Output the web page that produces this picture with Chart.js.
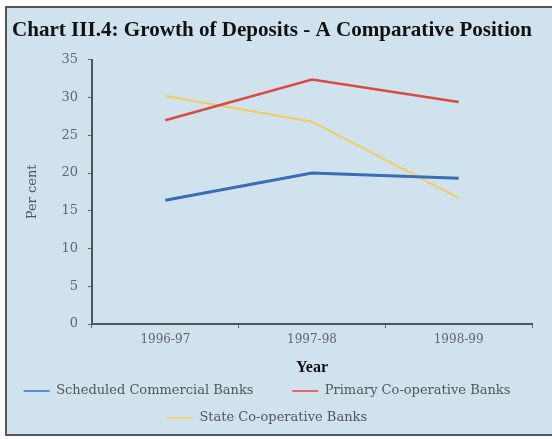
<!DOCTYPE html>
<html>
<head>
<meta charset="utf-8">
<script src="https://cdn.jsdelivr.net/npm/chart.js@4/dist/chart.umd.min.js"></script>
<style>
  html, body { margin: 0; padding: 0; background: #ffffff; }
  #wrap { width: 552px; height: 439px; position: relative; }
</style>
</head>
<body>
<div id="wrap"><canvas id="chart" width="552" height="439"></canvas></div>
<script>
// Growth of deposits, per cent
const years = ['1996-97', '1997-98', '1998-99'];
const scheduledCommercial = [16.4, 20.0, 19.3];
const primaryCooperative = [27.0, 32.4, 29.4];
const stateCooperative = [30.2, 26.8, 16.7];
const seriesNames = ['Scheduled Commercial Banks', 'Primary Co-operative Banks', 'State Co-operative Banks'];
const yTicks = [0, 5, 10, 15, 20, 25, 30, 35];

const SERIF = "'DejaVu Serif', 'Liberation Serif', serif";
const TITLE_SERIF = "'Liberation Serif', 'DejaVu Serif', serif";

// Light blue panel with a dark frame on the top, left and bottom
const panelFrame = {
  id: 'panelFrame',
  beforeDraw(chart) {
    const ctx = chart.ctx;
    ctx.save();
    ctx.fillStyle = '#ffffff';
    ctx.fillRect(0, 0, chart.width, chart.height);
    ctx.fillStyle = '#d1e2ef';
    ctx.fillRect(5, 6, chart.width - 5, 430);
    ctx.strokeStyle = '#555555';
    ctx.lineWidth = 2;
    ctx.beginPath();
    ctx.moveTo(chart.width, 7);
    ctx.lineTo(6, 7);
    ctx.lineTo(6, 435);
    ctx.lineTo(chart.width, 435);
    ctx.stroke();
    ctx.restore();
  }
};

// Nudge the legend block a little to the left of the centre
const legendShift = {
  id: 'legendShift',
  afterLayout(chart) {
    const lg = chart.legend;
    if (lg) { lg.left -= 5; lg.right -= 5; }
  }
};

new Chart(document.getElementById('chart'), {
  type: 'line',
  data: {
    labels: years,
    datasets: [
      { label: seriesNames[0], data: scheduledCommercial, borderColor: '#3b6db4', backgroundColor: '#5b8cd0', borderWidth: 3 },
      { label: seriesNames[1], data: primaryCooperative, borderColor: '#d84a43', backgroundColor: '#e46a64', borderWidth: 2.5 },
      { label: seriesNames[2], data: stateCooperative, borderColor: '#efcd5f', backgroundColor: '#f0d477', borderWidth: 2 }
    ]
  },
  options: {
    responsive: false,
    animation: false,
    devicePixelRatio: 1,
    layout: { padding: { left: 12, right: 20, top: 0, bottom: 4.5 } },
    elements: {
      line: { tension: 0 },
      point: { radius: 0, hoverRadius: 0 }
    },
    plugins: {
      title: {
        display: true,
        text: 'Chart III.4: Growth of Deposits - A Comparative Position',
        align: 'start',
        color: '#111111',
        font: { family: TITLE_SERIF, size: 21.5, weight: 'bold', lineHeight: 1.2 },
        padding: { top: 18, bottom: 16 }
      },
      legend: {
        position: 'bottom',
        align: 'center',
        labels: {
          color: '#555555',
          font: { family: SERIF, size: 13 },
          boxWidth: 26,
          boxHeight: 2,
          padding: 14,
          generateLabels(chart) {
            // the first entry gets a wider slot so the two on the top row sit apart
            return chart.data.datasets.map((ds, i) => ({
              text: i === 0 ? ds.label + '      ' : ds.label,
              fillStyle: ds.backgroundColor,
              strokeStyle: ds.backgroundColor,
              lineWidth: 0,
              hidden: false,
              datasetIndex: i,
              fontColor: '#555555'
            }));
          }
        }
      },
      tooltip: { enabled: false }
    },
    scales: {
      x: {
        type: 'category',
        offset: true,
        border: { display: true, color: '#555555', width: 2 },
        grid: { display: true, drawOnChartArea: false, drawTicks: true, tickLength: 4, color: '#666666', offset: true },
        ticks: { color: '#666666', font: { family: SERIF, size: 12 }, padding: 5, maxRotation: 0 },
        title: {
          display: true,
          text: 'Year',
          color: '#111111',
          font: { family: TITLE_SERIF, size: 16, weight: 'bold', lineHeight: 1.2 },
          padding: { top: 0, bottom: -7 }
        },
        afterFit(scale) { scale.height = 46.5; }
      },
      y: {
        min: 0,
        max: 35,
        border: { display: true, color: '#555555', width: 2 },
        grid: { display: true, drawOnChartArea: false, drawTicks: true, tickLength: 4, color: '#666666' },
        afterBuildTicks(scale) { scale.ticks = yTicks.map(v => ({ value: v })); },
        ticks: { color: '#666666', font: { family: SERIF, size: 13 }, padding: 10 },
        title: {
          display: true,
          text: 'Per cent',
          color: '#555555',
          font: { family: SERIF, size: 13, lineHeight: 1.2 },
          padding: { top: 13, bottom: 0 }
        },
        afterFit(scale) { scale.width = 80; }
      }
    }
  },
  plugins: [panelFrame, legendShift]
});
</script>
</body>
</html>
